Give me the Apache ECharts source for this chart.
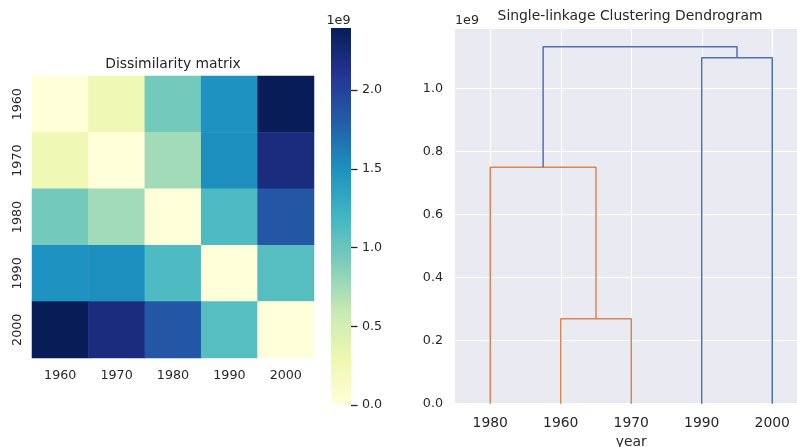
<!DOCTYPE html>
<html><head><meta charset="utf-8">
<script src="https://cdn.jsdelivr.net/npm/echarts@6/dist/echarts.min.js"></script>
<style>html,body{margin:0;padding:0;background:#fff}#c{width:797px;height:447px}</style>
</head><body><div id="c"></div>
<script>
// ---- data ----
const years = ['1960', '1970', '1980', '1990', '2000'];
const dist1960 = [0, 0.270e9, 0.950e9, 1.490e9, 2.394e9];
const dist1970 = [0.270e9, 0, 0.751e9, 1.510e9, 2.200e9];
const dist1980 = [0.950e9, 0.751e9, 0, 1.133e9, 1.853e9];
const dist1990 = [1.490e9, 1.510e9, 1.133e9, 0, 1.098e9];
const dist2000 = [2.394e9, 2.200e9, 1.853e9, 1.098e9, 0];
const distMatrix = [dist1960, dist1970, dist1980, dist1990, dist2000];
// single-linkage merges: [childA, childB, height] (ids >= 5 are earlier merges)
const linkage = [[0, 1, 0.270e9], [2, 5, 0.751e9], [3, 4, 1.098e9], [6, 7, 1.133e9]];
const colorbarTicks = [0, 0.5e9, 1.0e9, 1.5e9, 2.0e9];
const dendroYTicks = [0, 0.2e9, 0.4e9, 0.6e9, 0.8e9, 1.0e9];
const YlGnBu = ['#ffffd9', '#edf8b1', '#c7e9b4', '#7fcdbb', '#41b6c4', '#1d91c0', '#225ea8', '#253494', '#081d58'];
const belowColor = '#dd8452', aboveColor = '#4c72b0';

// ---- derived ----
const heatData = [];
distMatrix.forEach((row, i) => row.forEach((v, j) => heatData.push([j, i, v])));
const vmax = Math.max(...distMatrix.map(r => Math.max(...r)));

const n = years.length;
const nodes = {};
linkage.forEach((r, i) => { nodes[n + i] = { l: r[0], r: r[1], h: r[2] }; });
const leafOrder = [];
(function walk(id) { if (id < n) { leafOrder.push(id); return; } walk(nodes[id].l); walk(nodes[id].r); })(n + linkage.length - 1);
const xPos = {}, hPos = {};
leafOrder.forEach((id, i) => { xPos[id] = 5 + 10 * i; hPos[id] = 0; });
const maxH = Math.max(...linkage.map(r => r[2]));
const threshold = 0.7 * maxH;
const linkSeries = linkage.map((r, i) => {
  const id = n + i, a = r[0], b = r[1], h = r[2];
  xPos[id] = (xPos[a] + xPos[b]) / 2; hPos[id] = h;
  return {
    type: 'line', xAxisIndex: 1, yAxisIndex: 1, showSymbol: false, silent: true,
    data: [[xPos[a], hPos[a]], [xPos[a], h], [xPos[b], h], [xPos[b], hPos[b]]],
    lineStyle: { width: 1.5, color: h < threshold ? belowColor : aboveColor }
  };
});
const leafTicks = leafOrder.map((id, i) => 5 + 10 * i);

const FONT = 'DejaVu Sans', TXT = '#262626';
const TICK = 12.7, BIG = 13.9;
const chart = echarts.init(document.getElementById('c'), null, { renderer: 'canvas' });
chart.setOption({
  animation: false,
  backgroundColor: '#ffffff',
  textStyle: { fontFamily: FONT, color: TXT },
  grid: [
    { left: 32, top: 76, width: 282, height: 282, containLabel: false, outerBoundsMode: 'none' },
    { left: 455, top: 29, width: 352.5, height: 374.7, show: true, backgroundColor: '#eaeaf2', borderWidth: 0, outerBoundsMode: 'none' },
    { left: 331, top: 28, width: 20, height: 377, outerBoundsMode: 'none' }
  ],
  xAxis: [
    { gridIndex: 0, type: 'category', data: years, axisLine: { show: false }, axisTick: { show: false },
      axisLabel: { fontSize: TICK, color: TXT, margin: 11, fontFamily: FONT }, splitLine: { show: false } },
    { gridIndex: 1, type: 'value', min: 0, max: 10 * n, axisLine: { show: false },
      axisTick: { show: false, customValues: leafTicks },
      axisLabel: { customValues: leafTicks, fontSize: BIG, color: TXT, margin: 13, fontFamily: FONT,
        formatter: v => years[leafOrder[Math.round((v - 5) / 10)]] },
      splitLine: { show: true, lineStyle: { color: '#ffffff', width: 1.1 } },
      name: 'year', nameLocation: 'middle', nameGap: 31, nameTextStyle: { fontSize: BIG, color: TXT, fontFamily: FONT } },
    { gridIndex: 2, type: 'category', data: ['cb'], show: false }
  ],
  yAxis: [
    { gridIndex: 0, type: 'category', data: years, inverse: true, axisLine: { show: false }, axisTick: { show: false },
      axisLabel: { fontSize: TICK, color: TXT, rotate: 90, margin: 8, fontFamily: FONT }, splitLine: { show: false } },
    { gridIndex: 1, type: 'value', min: 0, max: maxH * 1.05, axisLine: { show: false },
      axisTick: { show: false, customValues: dendroYTicks },
      axisLabel: { customValues: dendroYTicks, fontSize: TICK, color: TXT, margin: 12, fontFamily: FONT,
        formatter: v => (v / 1e9).toFixed(1) },
      splitLine: { show: true, lineStyle: { color: '#ffffff', width: 1.1 } } },
    { gridIndex: 2, type: 'value', position: 'right', min: 0, max: vmax, axisLine: { show: false },
      axisTick: { show: true, customValues: colorbarTicks, length: 6.5, lineStyle: { color: TXT, width: 1.3 } },
      axisLabel: { customValues: colorbarTicks, fontSize: TICK, color: TXT, margin: 11, fontFamily: FONT,
        formatter: v => (v / 1e9).toFixed(1) },
      splitLine: { show: false } }
  ],
  visualMap: { show: false, type: 'continuous', seriesIndex: 0, min: 0, max: vmax, inRange: { color: YlGnBu } },
  series: [
    { type: 'heatmap', xAxisIndex: 0, yAxisIndex: 0, data: heatData, silent: true },
    { type: 'bar', xAxisIndex: 2, yAxisIndex: 2, data: [vmax], barWidth: '100%', silent: true,
      itemStyle: { color: new echarts.graphic.LinearGradient(0, 1, 0, 0,
        YlGnBu.map((c, i) => ({ offset: i / (YlGnBu.length - 1), color: c }))) } }
  ].concat(linkSeries),
  graphic: [
    { type: 'text', x: 173, y: 64, style: { text: 'Dissimilarity matrix', font: BIG + 'px "DejaVu Sans"', fill: TXT, textAlign: 'center', textVerticalAlign: 'middle' } },
    { type: 'text', x: 630, y: 16.5, style: { text: 'Single-linkage Clustering Dendrogram', font: BIG + 'px "DejaVu Sans"', fill: TXT, textAlign: 'center', textVerticalAlign: 'middle' } },
    { type: 'text', x: 338.5, y: 20.5, style: { text: '1e9', font: TICK + 'px "DejaVu Sans"', fill: TXT, textAlign: 'center', textVerticalAlign: 'middle' } },
    { type: 'text', x: 455, y: 20.5, style: { text: '1e9', font: TICK + 'px "DejaVu Sans"', fill: TXT, textAlign: 'left', textVerticalAlign: 'middle' } }
  ]
});
</script></body></html>
